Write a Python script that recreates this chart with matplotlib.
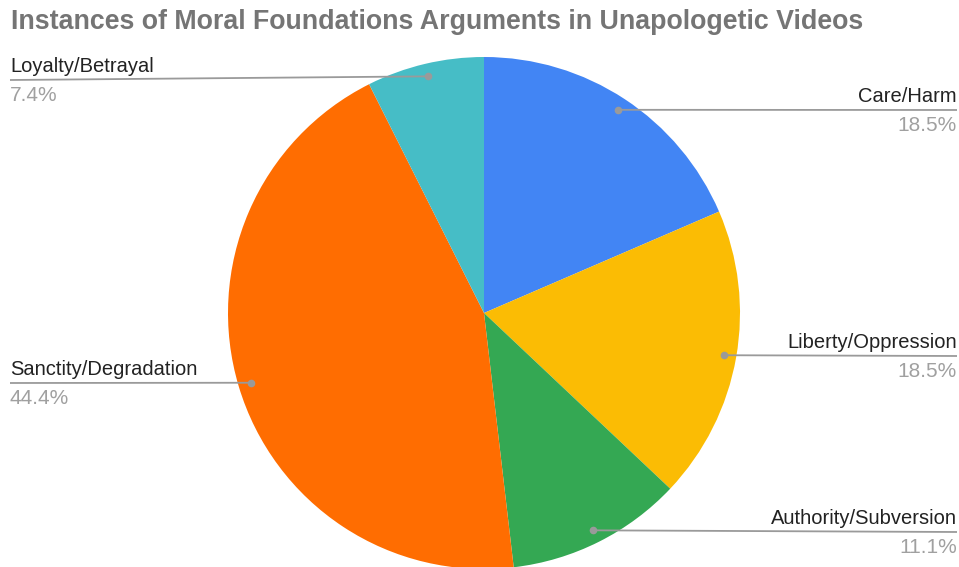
import numpy as np
import matplotlib.pyplot as plt

# Moral foundation argument counts (unapologetic videos)
labels = ["Care/Harm", "Liberty/Oppression", "Authority/Subversion",
          "Sanctity/Degradation", "Loyalty/Betrayal"]
counts = [5, 5, 3, 12, 2]
colors = ["#4285F4", "#FBBC04", "#34A853", "#FF6D01", "#46BDC6"]

W, H = 959, 567
fig = plt.figure(figsize=(W / 100, H / 100), dpi=100)
ax = fig.add_axes([0, 0, 1, 1])

cx, cy, r = 484, H - 313, 256
ax.pie(counts, colors=colors, startangle=90, counterclock=False,
       center=(cx, cy), radius=r, wedgeprops=dict(linewidth=0))
ax.set_xlim(0, W)
ax.set_ylim(0, H)
ax.set_aspect("equal")
ax.axis("off")

font = "Liberation Sans"
fig.text(11 / W, 1 - 22 / H, "Instances of Moral Foundations Arguments in Unapologetic Videos",
         fontsize=19.3, fontweight="bold", color="#757575", family=font,
         ha="left", va="center")

total = sum(counts)
shares = [c / total * 100 for c in counts]
# where each label line ends up (screen y of line end), per slice
line_end_y = [110, 356, 532, 383, 80]

start = 0.0
for lab, val, share, ly in zip(labels, counts, shares, line_end_y):
    mid = start + val / total * 360 / 2
    start += val / total * 360
    th = np.deg2rad(mid)
    dx, dy = cx + 0.95 * r * np.sin(th), cy + 0.95 * r * np.cos(th)
    right = np.sin(th) > 0
    ex = 957 if right else 10
    ey = H - ly
    ax.plot([dx, ex], [dy, ey], color="#9a9a9a", lw=1.3, solid_capstyle="butt")
    ax.plot(dx, dy, "o", ms=5.5, color="#9a9a9a", mec="none")
    ha = "right" if right else "left"
    ax.text(ex, ey + 4, lab, ha=ha, va="bottom", fontsize=14.5,
            color="#222222", family=font)
    ax.text(ex, ey - 6, f"{share:.1f}%", ha=ha, va="top", fontsize=15,
            color="#a0a0a0", family=font)

fig.savefig("out.png", dpi=100)
